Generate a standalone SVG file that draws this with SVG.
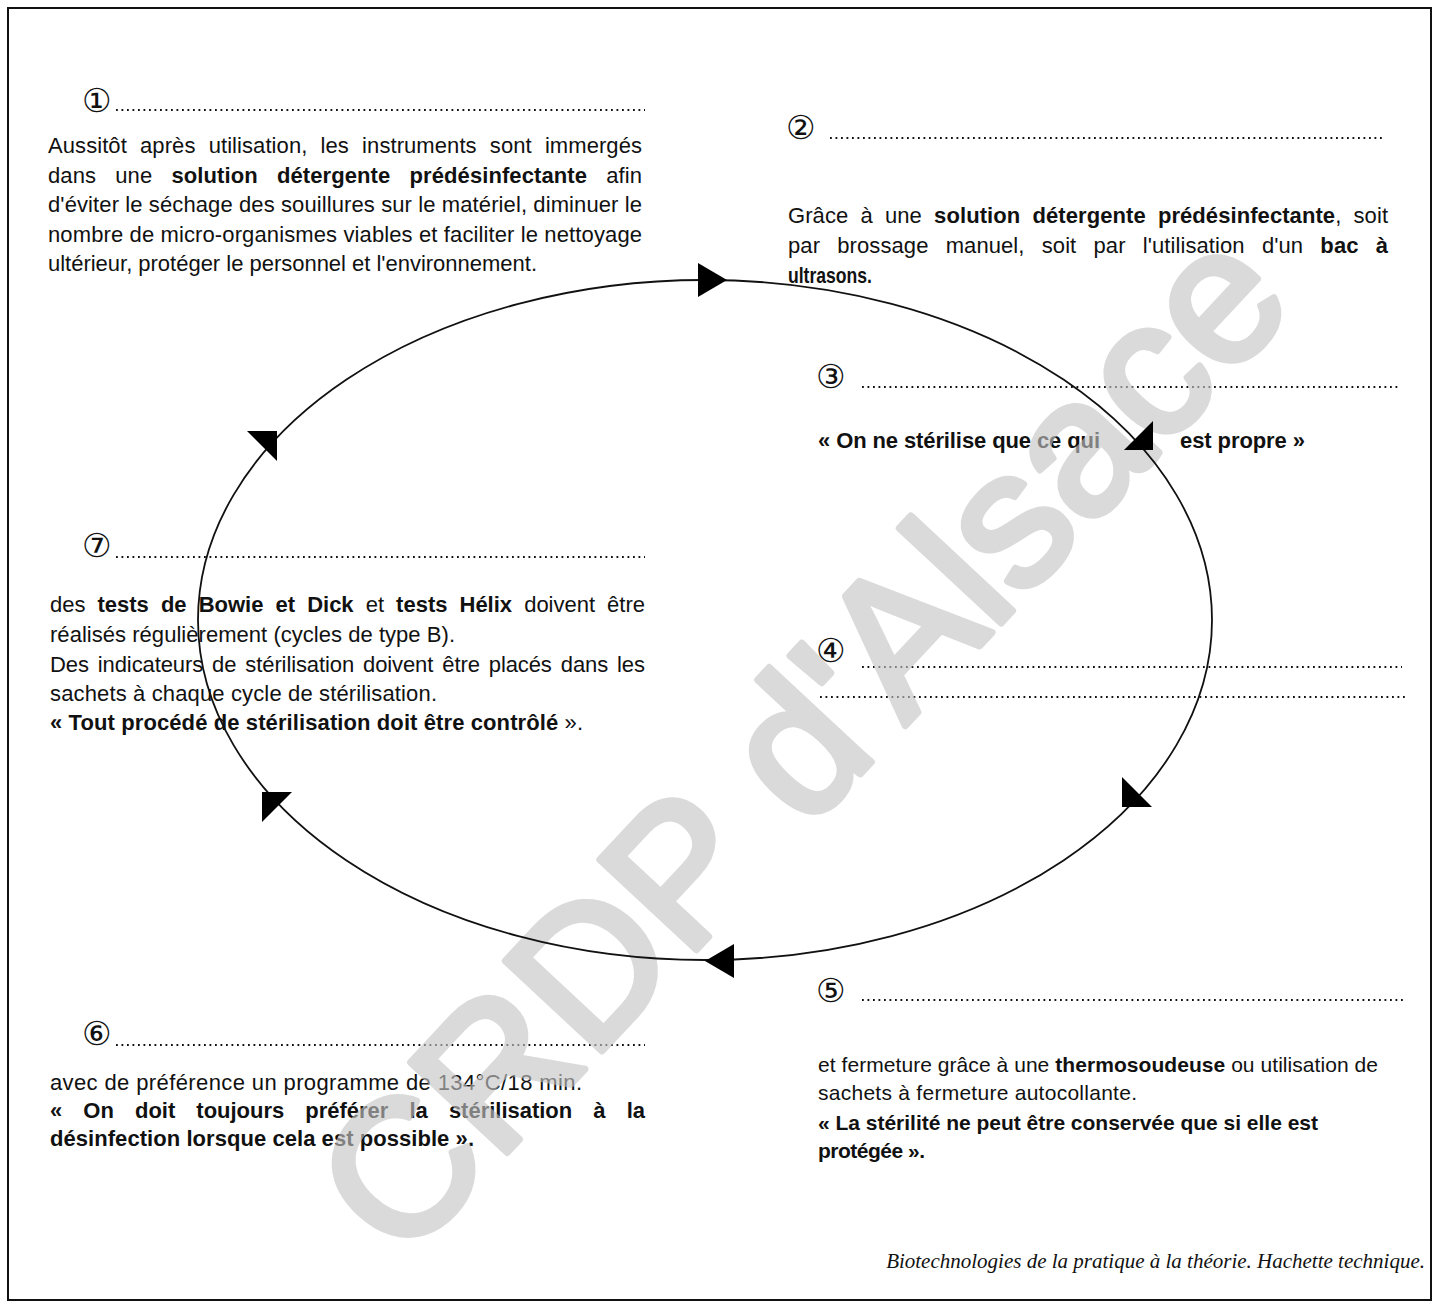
<svg xmlns="http://www.w3.org/2000/svg" width="1439" height="1310" viewBox="0 0 1439 1310">
<style>
.t{font-family:"Liberation Sans",Arial,sans-serif;font-size:22px;fill:#111}
.s{font-size:21px}
.b{font-weight:bold}
.n{font-family:"DejaVu Sans","Noto Sans CJK JP",sans-serif;font-size:33px;fill:#111}
.dot{stroke:#111;stroke-width:1.8;stroke-dasharray:1.8 3.7;fill:none}
.cite{font-family:"Liberation Serif","Times New Roman",serif;font-style:italic;font-size:21px;fill:#111}
.wm{font-family:"Liberation Sans",Arial,sans-serif;font-size:192px;fill:#c4c4c4;stroke:#c4c4c4;stroke-width:7;stroke-linejoin:round;opacity:0.62}
.arr{fill:#000}
</style>
<rect x="8" y="8" width="1423" height="1292" fill="#fff" stroke="#111" stroke-width="2"/>

<g id="step1">
<text class="n" x="82" y="112">①</text>
<line class="dot" x1="116" y1="110" x2="645" y2="110"/>
<text class="t" x="48" y="153" word-spacing="7" textLength="594" lengthAdjust="spacing">Aussitôt après utilisation, les instruments sont immergés</text>
<text class="t" x="48" y="183" word-spacing="13" textLength="594" lengthAdjust="spacing">dans une <tspan class="b">solution détergente prédésinfectante</tspan> afin</text>
<text class="t" x="48" y="212" textLength="594" lengthAdjust="spacing">d'éviter le séchage des souillures sur le matériel, diminuer le</text>
<text class="t" x="48" y="242" textLength="594" lengthAdjust="spacing">nombre de micro-organismes viables et faciliter le nettoyage</text>
<text class="t" x="48" y="271" textLength="489" lengthAdjust="spacing">ultérieur, protéger le personnel et l'environnement.</text>
</g>

<g id="step2">
<text class="n" x="786" y="139">②</text>
<line class="dot" x1="830" y1="138" x2="1385" y2="138"/>
<text class="t" x="788" y="223" word-spacing="6" textLength="600" lengthAdjust="spacing">Grâce à une <tspan class="b">solution détergente prédésinfectante</tspan>, soit</text>
<text class="t" x="788" y="253" word-spacing="11" textLength="600" lengthAdjust="spacing">par brossage manuel, soit par l'utilisation d'un <tspan class="b">bac à</tspan></text>
<text class="t b" x="788" y="283" textLength="84" lengthAdjust="spacingAndGlyphs">ultrasons.</text>
</g>

<g id="step3">
<text class="n" x="816" y="388">③</text>
<line class="dot" x1="862" y1="387" x2="1398" y2="387"/>
<text class="t b" x="818" y="448" textLength="282" lengthAdjust="spacing">« On ne stérilise que ce qui</text>
<text class="t b" x="1180" y="448" textLength="125" lengthAdjust="spacing">est propre »</text>
</g>

<g id="step4">
<text class="n" x="816" y="662">④</text>
<line class="dot" x1="862" y1="667" x2="1402" y2="667"/>
<line class="dot" x1="820" y1="697" x2="1408" y2="697"/>
</g>

<g id="step5">
<text class="n" x="816" y="1002">⑤</text>
<line class="dot" x1="862" y1="1000" x2="1405" y2="1000"/>
<text class="t s" x="818" y="1072" textLength="560" lengthAdjust="spacing">et fermeture grâce à une <tspan class="b">thermosoudeuse</tspan> ou utilisation de</text>
<text class="t s" x="818" y="1100" textLength="319" lengthAdjust="spacing">sachets à fermeture autocollante.</text>
<text class="t s b" x="818" y="1130" textLength="500" lengthAdjust="spacing">« La stérilité ne peut être conservée que si elle est</text>
<text class="t s b" x="818" y="1158" textLength="107" lengthAdjust="spacing">protégée ».</text>
</g>

<g id="step6">
<text class="n" x="82" y="1045">⑥</text>
<line class="dot" x1="116" y1="1045" x2="645" y2="1045"/>
<text class="t" x="50" y="1090" textLength="532" lengthAdjust="spacing">avec de préférence un programme de 134°C/18 min.</text>
<text class="t b" x="50" y="1118" word-spacing="15" textLength="595" lengthAdjust="spacing">« On doit toujours préférer la stérilisation à la</text>
<text class="t b" x="50" y="1146" textLength="424" lengthAdjust="spacing">désinfection lorsque cela est possible ».</text>
</g>

<g id="step7">
<text class="n" x="82" y="557">⑦</text>
<line class="dot" x1="116" y1="557" x2="645" y2="557"/>
<text class="t" x="50" y="612" word-spacing="6" textLength="595" lengthAdjust="spacing">des <tspan class="b">tests de Bowie et Dick</tspan> et <tspan class="b">tests Hélix</tspan> doivent être</text>
<text class="t" x="50" y="642" textLength="405" lengthAdjust="spacing">réalisés régulièrement (cycles de type B).</text>
<text class="t" x="50" y="672" word-spacing="3" textLength="595" lengthAdjust="spacing">Des indicateurs de stérilisation doivent être placés dans les</text>
<text class="t" x="50" y="701" textLength="387" lengthAdjust="spacing">sachets à chaque cycle de stérilisation.</text>
<text class="t" x="50" y="730" textLength="533" lengthAdjust="spacing"><tspan class="b">« Tout procédé de stérilisation doit être contrôlé</tspan> ».</text>
</g>

<g id="source">
<text class="cite" x="1425" y="1268" text-anchor="end">Biotechnologies de la pratique à la théorie. Hachette technique.</text>
</g>

<text class="wm" transform="translate(850,785) rotate(-47)" text-anchor="middle">CRDP d'Alsace</text>

<g id="connectors">
<ellipse cx="705" cy="620" rx="507" ry="340" fill="none" stroke="#111" stroke-width="1.8"/>
<polygon class="arr" points="698,263 698,297 727,280"/>
<polygon class="arr" points="1124,450 1153,421 1153,450"/>
<polygon class="arr" points="1122,777 1122,807 1152,807"/>
<polygon class="arr" points="734,944 734,978 705,961"/>
<polygon class="arr" points="262,792 292,792 262,822"/>
<polygon class="arr" points="247,431 277,431 277,461"/>
</g>
</svg>
